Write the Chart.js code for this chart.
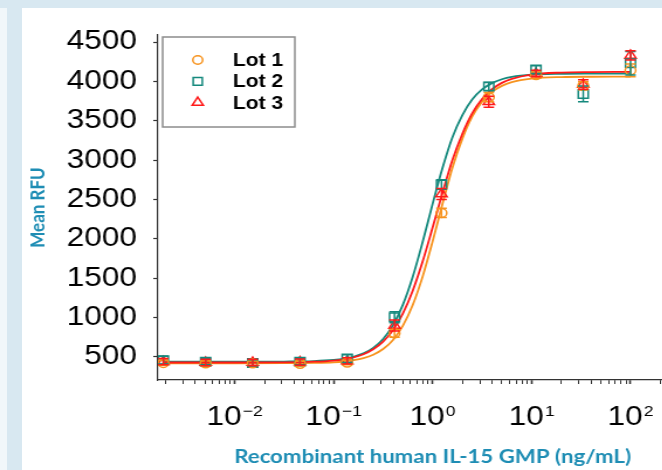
<!DOCTYPE html>
<html>
<head>
<meta charset="utf-8">
<script src="https://cdn.jsdelivr.net/npm/chart.js"></script>
<style>
  html, body { margin: 0; padding: 0; }
  body { width: 662px; height: 470px; overflow: hidden; position: relative; background: #d8e8f1; }
  #edge { position: absolute; left: 0; top: 8px; width: 7px; bottom: 0; background: #f1f7fa; }
  #panel { position: absolute; left: 22px; top: 8px; right: 0; bottom: 0; background: #fff; }
  /* the source figure is stretched sideways, so the canvas is too */
  #chart { position: absolute; left: 0; top: 0; transform: scaleX(1.17); transform-origin: 0 0; }
</style>
</head>
<body>
<div id="edge"></div>
<div id="panel"></div>
<canvas id="chart" width="612" height="470"></canvas>
<script>
// dose in ng/mL (3-fold series), mean RFU per lot
const doses = [0.0019, 0.00508, 0.0152, 0.0457, 0.137, 0.412, 1.23, 3.70, 11.1, 33.3, 100];
const lot1 = [425, 420, 420, 415, 430, 800, 2330, 3800, 4080, 3945, 4140];
const lot2 = [460, 440, 425, 440, 480, 1005, 2690, 3935, 4150, 3840, 4230];
const lot3 = [440, 430, 430, 435, 450, 900, 2570, 3740, 4100, 3960, 4330];
const err1 = [30, 30, 30, 30, 30, 50, 60, 60, 40, 50, 80];
const err2 = [50, 40, 40, 40, 50, 70, 60, 50, 50, 100, 150];
const err3 = [40, 40, 40, 40, 40, 70, 70, 70, 40, 60, 60];

// fitted curves
const fitDose = [0.0019, 0.01, 0.0316, 0.0631, 0.1, 0.126, 0.158, 0.2, 0.251, 0.316, 0.398, 0.501, 0.631, 0.794,
  1, 1.26, 1.58, 2.0, 2.51, 3.16, 3.98, 5.01, 6.31, 10, 20, 39.8, 100];
const fit1 = [420, 420, 421, 425, 433, 443, 459, 485, 529, 601, 717, 898, 1163, 1524,
  1968, 2447, 2898, 3273, 3551, 3742, 3866, 3943, 3990, 4035, 4055, 4059, 4060];
const fit2 = [440, 440, 442, 448, 462, 477, 503, 546, 616, 729, 905, 1165, 1522, 1963,
  2445, 2903, 3285, 3572, 3769, 3898, 3978, 4027, 4057, 4085, 4096, 4099, 4100];
const fit3 = [430, 430, 432, 440, 455, 471, 496, 535, 598, 695, 841, 1053, 1345, 1715,
  2144, 2587, 2995, 3335, 3593, 3776, 3900, 3981, 4033, 4087, 4112, 4118, 4120];

const lotNames = ['Lot 1', 'Lot 2', 'Lot 3'];
const yTicks = [500, 1000, 1500, 2000, 2500, 3000, 3500, 4000, 4500];
const xExponents = [-2, -1, 0, 1, 2];

const ORANGE = '#f7931e';
const TEAL = '#15897d';
const RED = '#ff1a1a';
const TITLE = '#1e8db4';
const AXIS = '#333';

const toPoints = (xs, ys) => xs.map((x, i) => ({ x: x, y: ys[i] }));

function markers(label, values, errors, color, style, radius) {
  return {
    label: label,
    data: toPoints(doses, values),
    errors: errors,
    showLine: false,
    borderColor: color,
    backgroundColor: 'rgba(255,255,255,0)',
    pointStyle: style,
    pointRadius: radius,
    pointBorderWidth: 1.5,
    order: 0
  };
}

function curve(values, color, order) {
  return {
    data: toPoints(fitDose, values),
    showLine: true,
    borderColor: color,
    borderWidth: 1.8,
    pointRadius: 0,
    cubicInterpolationMode: 'monotone',
    order: order
  };
}

const errorBars = {
  id: 'errorBars',
  afterDatasetsDraw(chart) {
    const { ctx, scales: { x, y } } = chart;
    chart.data.datasets.forEach(ds => {
      if (!ds.errors) return;
      ctx.save();
      ctx.strokeStyle = ds.borderColor;
      ctx.lineWidth = 1.5;
      ds.data.forEach((p, j) => {
        const px = x.getPixelForValue(p.x);
        const top = y.getPixelForValue(p.y + ds.errors[j]);
        const bot = y.getPixelForValue(p.y - ds.errors[j]);
        ctx.beginPath();
        ctx.moveTo(px, top); ctx.lineTo(px, bot);
        ctx.moveTo(px - 4.5, top); ctx.lineTo(px + 4.5, top);
        ctx.moveTo(px - 4.5, bot); ctx.lineTo(px + 4.5, bot);
        ctx.stroke();
      });
      ctx.restore();
    });
  }
};

// decade labels with a raised exponent
const powerTicks = {
  id: 'powerTicks',
  afterDraw(chart) {
    const { ctx, scales: { x } } = chart;
    const base = '27px "Liberation Sans", Arial, sans-serif';
    const sup = '15px "Liberation Sans", Arial, sans-serif';
    ctx.save();
    ctx.fillStyle = '#000';
    ctx.textBaseline = 'alphabetic';
    ctx.textAlign = 'left';
    xExponents.forEach(e => {
      const px = x.getPixelForValue(Math.pow(10, e));
      const exp = String(e).replace('-', '\u2212');
      ctx.font = base;
      const w1 = ctx.measureText('10').width;
      ctx.font = sup;
      const w2 = ctx.measureText(exp).width;
      const left = px - (w1 + w2 + 1) / 2;
      ctx.font = base;
      ctx.fillText('10', left, 425);
      ctx.font = sup;
      ctx.fillText(exp, left + w1 + 1, 416);
    });
    ctx.restore();
  }
};

const boxLegend = {
  id: 'boxLegend',
  afterDraw(chart) {
    const { ctx } = chart;
    const items = chart.data.datasets.filter(ds => ds.errors);
    const sizes = { circle: 4.2, rect: 5.5, triangle: 5.5 };
    ctx.save();
    ctx.strokeStyle = '#8c8c8c';
    ctx.lineWidth = 1.5;
    ctx.strokeRect(139, 37, 113, 90);
    items.forEach((ds, i) => {
      const y = 60 + i * 21.3;
      ctx.strokeStyle = ds.borderColor;
      ctx.fillStyle = 'rgba(255,255,255,0)';
      ctx.lineWidth = 1.5;
      Chart.helpers.drawPoint(ctx, { pointStyle: ds.pointStyle, radius: sizes[ds.pointStyle], borderWidth: 1.5, rotation: 0 }, 169, y);
      ctx.fillStyle = '#000';
      ctx.font = 'bold 18px "Liberation Sans", Arial, sans-serif';
      ctx.textBaseline = 'middle';
      ctx.fillText(ds.label, 199, y + 1);
    });
    ctx.restore();
  }
};

const minorTicks = [];
for (let e = -3; e <= 2; e++) {
  for (let k = 1; k <= 9; k++) minorTicks.push(k * Math.pow(10, e));
}

new Chart(document.getElementById('chart'), {
  type: 'scatter',
  data: {
    datasets: [
      markers(lotNames[0], lot1, err1, ORANGE, 'circle', 4.5),
      markers(lotNames[1], lot2, err2, TEAL, 'rect', 6),
      markers(lotNames[2], lot3, err3, RED, 'triangle', 5.5),
      curve(fit3, RED, 1),
      curve(fit2, TEAL, 2),
      curve(fit1, ORANGE, 3)
    ]
  },
  options: {
    responsive: false,
    animation: false,
    layout: { padding: { top: 35, left: 0, right: 0, bottom: 0 } },
    plugins: {
      legend: { display: false },
      tooltip: { enabled: false }
    },
    scales: {
      x: {
        type: 'logarithmic',
        min: 0.001675,
        max: 597,
        afterBuildTicks: s => { s.ticks = minorTicks.filter(v => v >= s.min && v <= s.max).map(v => ({ value: v })); },
        afterFit: s => { s.height = 90; },
        border: { display: true, color: AXIS, width: 1.2 },
        grid: {
          drawOnChartArea: false,
          drawTicks: true,
          tickLength: 4,
          tickColor: AXIS,
          tickWidth: ctx => (xExponents.includes(Math.round(Math.log10(ctx.tick.value) * 1000) / 1000) ? 1.6 : 1)
        },
        ticks: { autoSkip: false, maxRotation: 0, callback: () => '' },
        title: {
          display: true,
          text: 'Recombinant human IL-15 GMP (ng/mL)',
          color: TITLE,
          font: { family: 'Lato', size: 19, weight: 'bold' },
          padding: { top: 0, bottom: 2 }
        }
      },
      y: {
        type: 'linear',
        min: 207.9,
        max: 4589,
        afterBuildTicks: s => { s.ticks = yTicks.map(v => ({ value: v })); },
        afterFit: s => { s.width = 135; },
        border: { display: true, color: AXIS, width: 1.2 },
        grid: { drawOnChartArea: false, drawTicks: true, tickLength: 4, tickColor: AXIS, tickWidth: 1.2 },
        ticks: {
          color: '#000',
          padding: 14,
          font: { family: '"Liberation Sans", Arial, sans-serif', size: 27 },
          callback: v => String(v)
        },
        title: {
          display: true,
          text: 'Mean RFU',
          color: TITLE,
          font: { family: 'Lato', size: 17, weight: 'bold' },
          padding: { top: 22, bottom: 0 }
        }
      }
    }
  },
  plugins: [errorBars, powerTicks, boxLegend]
});
</script>
</body>
</html>
